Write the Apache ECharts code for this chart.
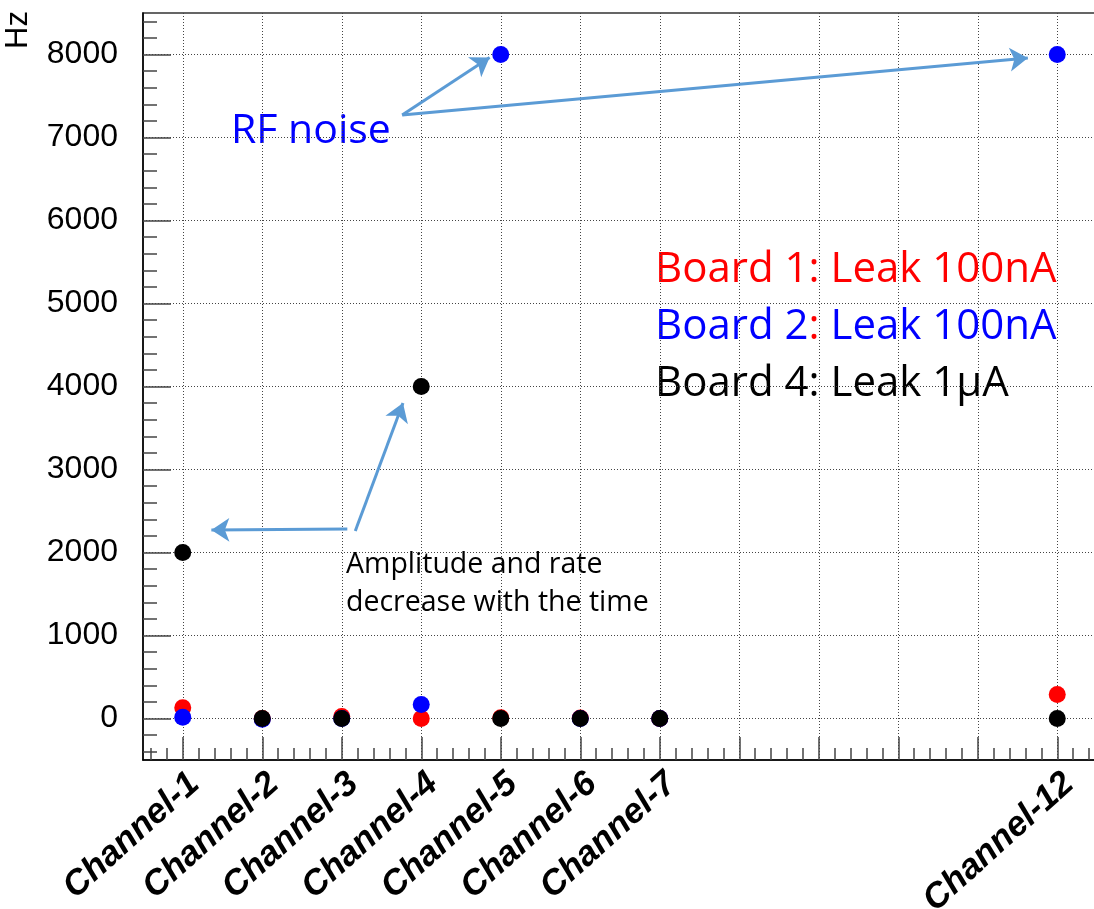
<!DOCTYPE html>
<html>
<head>
<meta charset="utf-8">
<script src="https://cdn.jsdelivr.net/npm/echarts@6/dist/echarts.min.js"></script>
<style>
  html, body { margin: 0; padding: 0; background: #fff; }
  #chart { width: 1094px; height: 909px; }
</style>
</head>
<body>
<div id="chart"></div>
<script>
// ----------data----------
// channel numbers on the x axis (only these are labelled)
const channels = [1, 2, 3, 4, 5, 6, 7, 12];
// rate in Hz per channel
const board1 = [130, 0, 25, 0, 10, 5, 0, 290];       // red, Leak 100nA
const board2 = [15, -10, 0, 170, 8000, 0, 0, 8000];  // blue, Leak 100nA
const board4 = [2000, 0, 0, 4000, 0, 0, 0, 0];       // black, Leak 1uA
// axis ticks
const yMajorTicks = [0, 1000, 2000, 3000, 4000, 5000, 6000, 7000, 8000];
const xMajorTicks = [1, 2, 3, 4, 5, 6, 7, 8, 9, 10, 11, 12];
// ------------------------

// minor ticks (ROOT style: 5 divisions per major step)
const yMinorTicks = [];
for (let v = -400; v <= 8400; v += 200) if (v % 1000 !== 0) yMinorTicks.push(v);
const xMinorTicks = [];
for (let k = 3; k <= 62; k++) if (k % 5 !== 0) xMinorTicks.push(k / 5);

const toPoints = (vals) => channels.map((c, i) => [c, vals[i]]);

const GRID_COLOR = '#444';
const ARROW_COLOR = '#5b9bd5';

const chart = echarts.init(document.getElementById('chart'));

// annotation arrows, in data coordinates
const arrows = [
  [[3.76, 7270], [4.86, 7965]],   // RF noise -> Channel-5
  [[3.76, 7270], [11.63, 7958]],  // RF noise -> Channel-12
  [[3.07, 2283], [1.36, 2271]],   // amplitude -> Channel-1
  [[3.17, 2260], [3.77, 3800]],   // amplitude -> Channel-4
];

const dotStyle = (color) => ({ color, opacity: 1 });

const option = {
  animation: false,
  backgroundColor: '#fff',
  grid: {
    left: 143, top: 13, width: 954, height: 747,
    show: true, borderColor: '#333', borderWidth: 1.5,
    containLabel: false, outerBoundsMode: 'none',
  },
  xAxis: [
    {
      type: 'value', min: 0.5, max: 12.5, position: 'bottom',
      axisLine: { show: true, onZero: false, lineStyle: { color: '#000', width: 1.5 } },
      axisTick: { show: true, inside: true, length: 23, customValues: xMajorTicks,
        lineStyle: { color: GRID_COLOR, width: 1.5 } },
      axisLabel: {
        customValues: channels,
        formatter: (v) => 'Channel-' + v,
        rotate: 42, margin: 6, align: 'right', verticalAlign: 'top',
        fontFamily: 'Liberation Sans', fontSize: 35, fontWeight: 'bold', fontStyle: 'italic',
        color: '#000',
      },
      splitLine: { show: true, lineStyle: { color: GRID_COLOR, type: [1, 2], width: 1 } },
    },
    {
      type: 'value', min: 0.5, max: 12.5, position: 'bottom',
      axisLine: { show: false, onZero: false },
      axisTick: { show: true, inside: true, length: 12, customValues: xMinorTicks,
        lineStyle: { color: GRID_COLOR, width: 1.5 } },
      axisLabel: { show: false },
      splitLine: { show: false },
    },
  ],
  yAxis: [
    {
      type: 'value', min: -500, max: 8500, position: 'left',
      axisLine: { show: true, onZero: false, lineStyle: { color: '#000', width: 1.5 } },
      axisTick: { show: true, inside: true, length: 28, customValues: yMajorTicks,
        lineStyle: { color: GRID_COLOR, width: 1.5 } },
      axisLabel: {
        customValues: yMajorTicks, margin: 25,
        formatter: (v) => String(v),
        fontFamily: 'Liberation Sans', fontSize: 32, color: '#000',
      },
      splitLine: { show: true, lineStyle: { color: GRID_COLOR, type: [1, 2], width: 1 } },
    },
    {
      type: 'value', min: -500, max: 8500, position: 'left',
      axisLine: { show: false, onZero: false },
      axisTick: { show: true, inside: true, length: 14, customValues: yMinorTicks,
        lineStyle: { color: GRID_COLOR, width: 1.5 } },
      axisLabel: { show: false },
      splitLine: { show: false },
    },
  ],
  series: [
    { name: 'Board 1', type: 'scatter', symbol: 'circle', symbolSize: 17,
      itemStyle: dotStyle('#ff0000'), data: toPoints(board1) },
    { name: 'Board 2', type: 'scatter', symbol: 'circle', symbolSize: 17,
      itemStyle: dotStyle('#0000ff'), data: toPoints(board2) },
    { name: 'Board 4', type: 'scatter', symbol: 'circle', symbolSize: 17,
      itemStyle: dotStyle('#000000'), data: toPoints(board4) },
    {
      name: 'arrows', type: 'scatter', data: [], silent: true,
      markLine: {
        silent: true, animation: false,
        symbol: ['none', 'arrow'], symbolSize: 18,
        label: { show: false },
        lineStyle: { color: ARROW_COLOR, width: 3, type: 'solid', opacity: 1 },
        itemStyle: { color: ARROW_COLOR },
        emphasis: { disabled: true },
        data: arrows.map(([a, b]) => [{ coord: a }, { coord: b }]),
      },
    },
  ],
  graphic: [
    { type: 'text', x: 34, y: 49, rotation: Math.PI / 2,
      style: { text: 'Hz', font: '31px "Liberation Sans"', fill: '#000',
        align: 'left', verticalAlign: 'bottom' } },
    { type: 'text', x: 231, y: 111,
      style: { text: 'RF noise', font: '41px "Open Sans"', fill: '#0000ff' } },
    { type: 'text', x: 655, y: 242,
      style: {
        text: '{r|Board 1: Leak 100nA}\n{b|Board 2}{r|:}{b| Leak 100nA}\n{k|Board 4: Leak 1μA}',
        font: '42px "Open Sans"', lineHeight: 57,
        rich: {
          r: { fill: '#ff0000', font: '42px "Open Sans"', lineHeight: 57 },
          b: { fill: '#0000ff', font: '42px "Open Sans"', lineHeight: 57 },
          k: { fill: '#000000', font: '42px "Open Sans"', lineHeight: 57 },
        },
      } },
    { type: 'text', x: 346, y: 546,
      style: { text: 'Amplitude and rate\ndecrease with the time',
        font: '28.5px "Open Sans"', lineHeight: 38, fill: '#000' } },
  ],
};

chart.setOption(option);
</script>
</body>
</html>
